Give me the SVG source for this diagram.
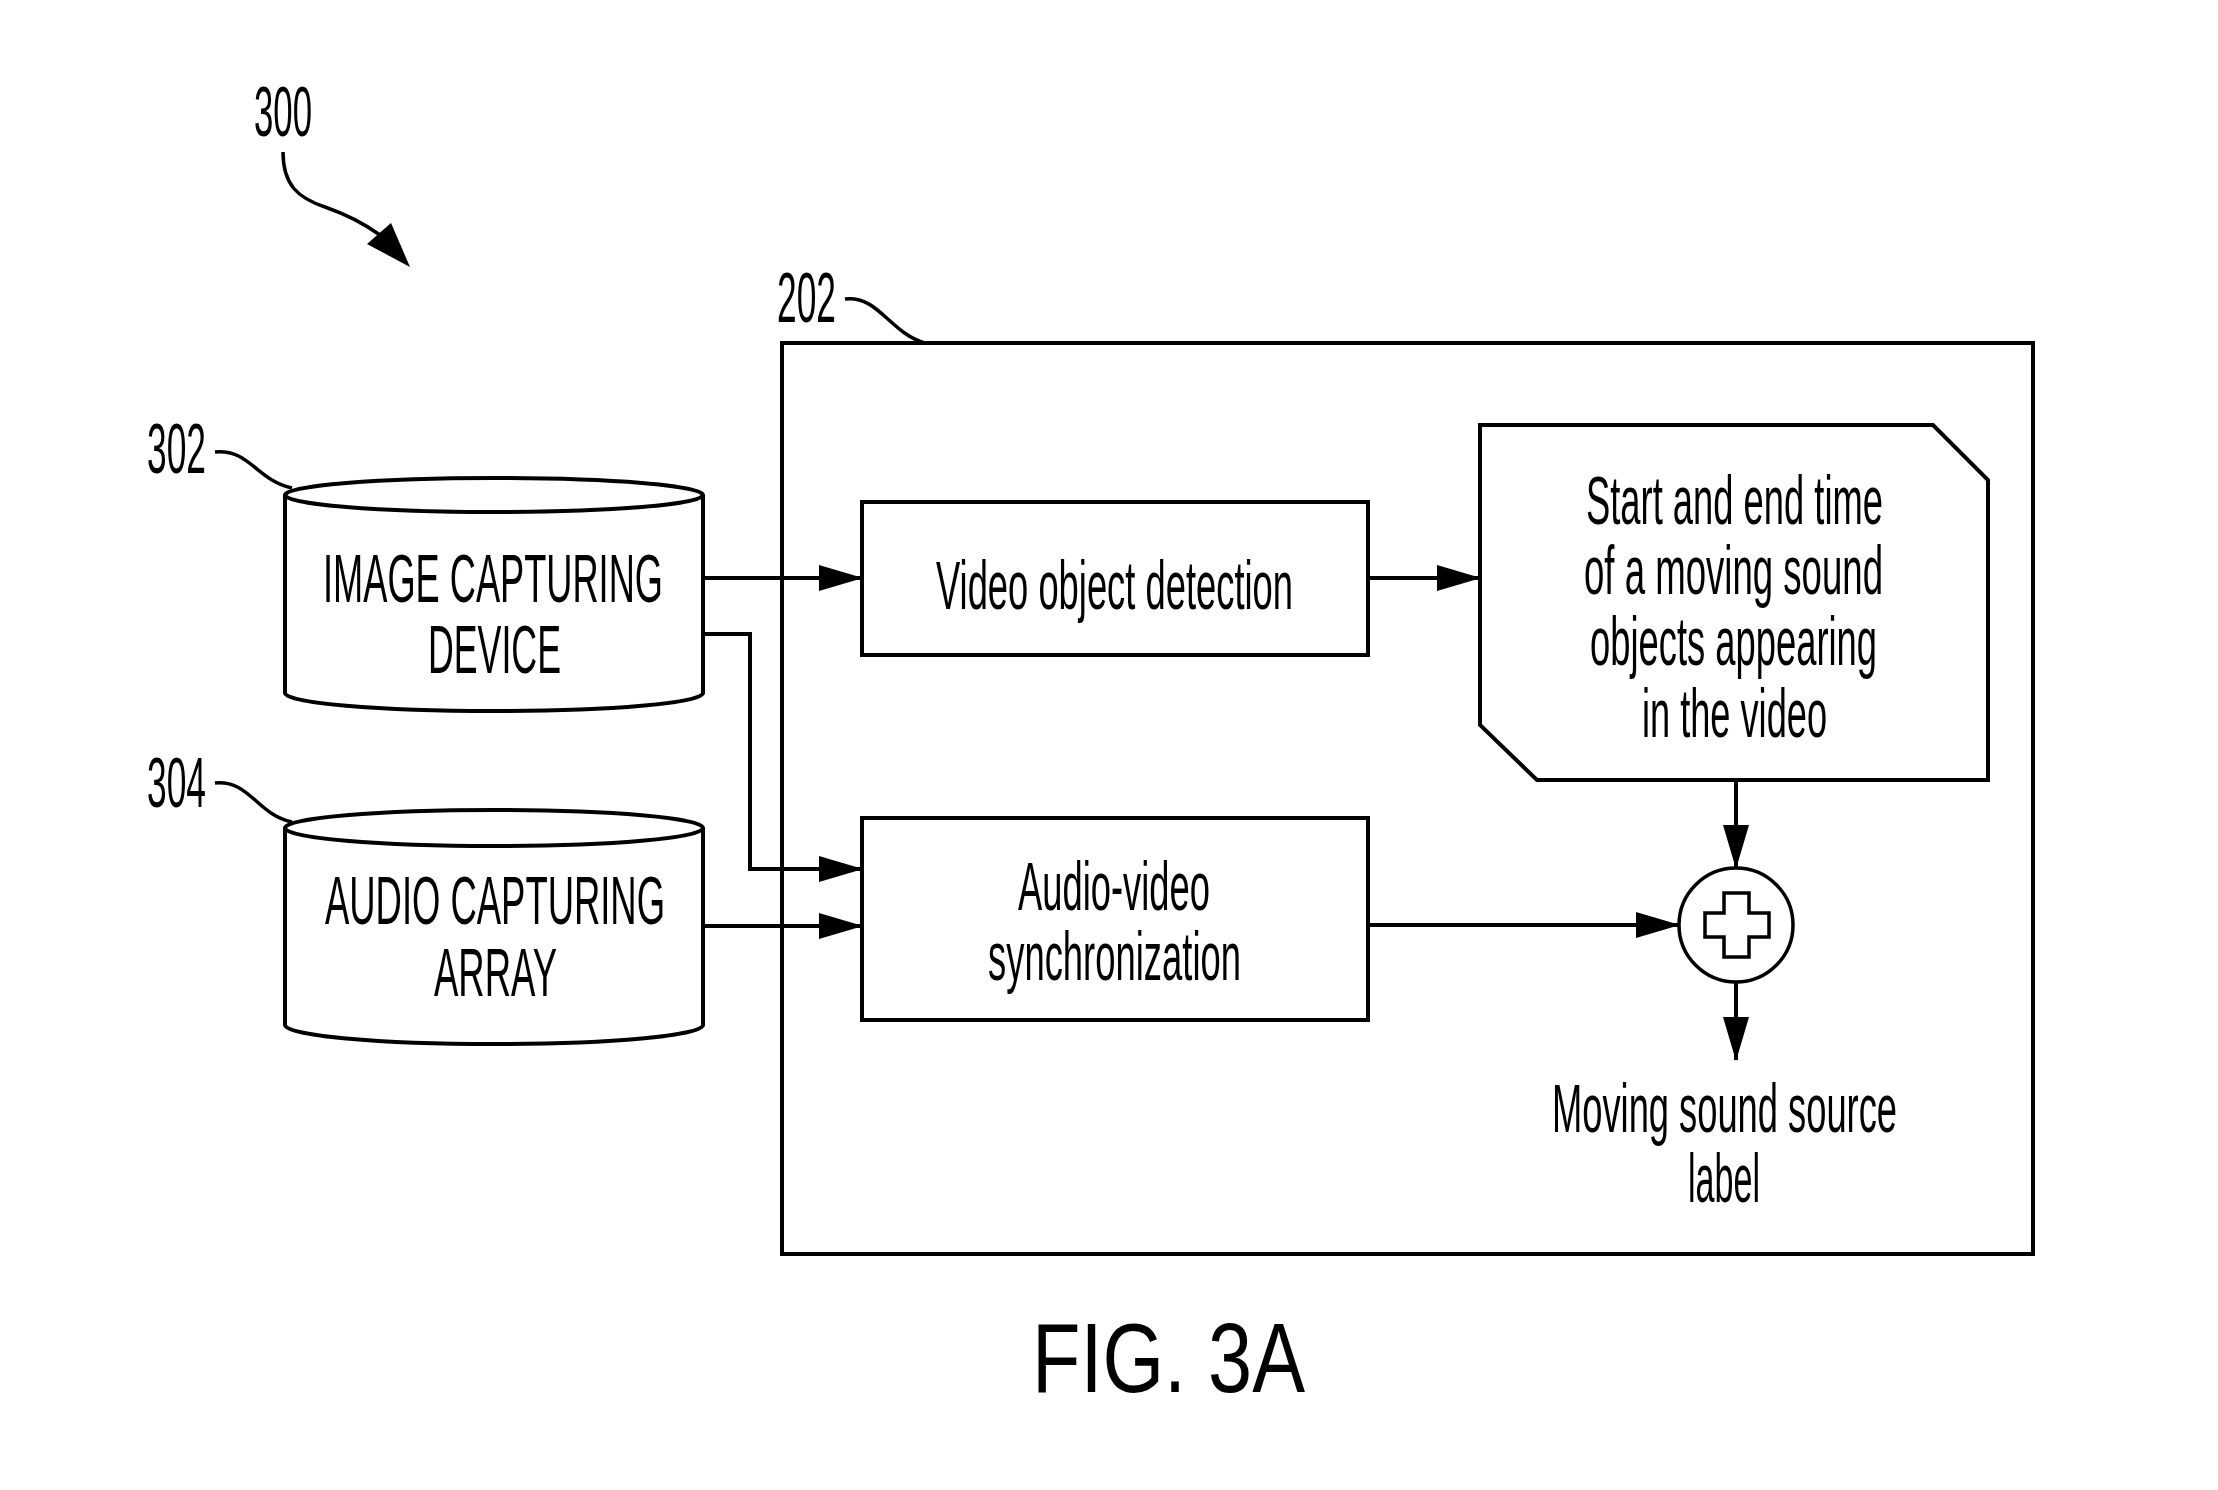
<svg xmlns="http://www.w3.org/2000/svg" width="2218" height="1490" viewBox="0 0 2218 1490">
<style>
text{font-family:"Liberation Sans",Arial,sans-serif;fill:#000;font-size:68px}
.fig{font-size:98px}
.shape{fill:#fff;stroke:#000;stroke-width:4}
.conn{fill:none;stroke:#000;stroke-width:4}
.lead{fill:none;stroke:#000;stroke-width:3.5}
</style>
<defs>
<marker id="ah" markerUnits="userSpaceOnUse" markerWidth="44" markerHeight="26" viewBox="0 0 44 26" refX="43" refY="13" orient="auto">
<path d="M0,0 L44,13 L0,26 z" fill="#000"/>
</marker>
</defs>
<rect width="2218" height="1490" fill="#fff"/>

<g id="label-300">
<text x="254" y="136" textLength="58" lengthAdjust="spacingAndGlyphs" style="font-size:71px">300</text>
<path class="lead" d="M283,152 C283,185 298,198 325,207 C345,214 362,222 380,235"/>
<polygon points="410,267 367,244 391,223" fill="#000"/>
</g>

<g id="node-202">
<rect class="shape" x="782" y="343" width="1251" height="911" fill="none"/>
<text x="777" y="322" textLength="59" lengthAdjust="spacingAndGlyphs" style="font-size:70px">202</text>
<path class="lead" d="M845,299 C878,295 890,333 925,343"/>
</g>

<g id="node-302">
<path class="shape" d="M285,495 L285,693 A209,18 0 0 0 703,693 L703,495"/>
<ellipse class="shape" cx="494" cy="495" rx="209" ry="17"/>
<text x="323" y="602" textLength="340" lengthAdjust="spacingAndGlyphs">IMAGE CAPTURING</text>
<text x="428" y="673" textLength="133" lengthAdjust="spacingAndGlyphs">DEVICE</text>
<text x="147" y="473" textLength="59" lengthAdjust="spacingAndGlyphs" style="font-size:70px">302</text>
<path class="lead" d="M215,452 C250,449 256,480 292,488"/>
</g>

<g id="node-304">
<path class="shape" d="M285,828 L285,1025 A209,19 0 0 0 703,1025 L703,828"/>
<ellipse class="shape" cx="494" cy="828" rx="209" ry="18"/>
<text x="325" y="924" textLength="340" lengthAdjust="spacingAndGlyphs">AUDIO CAPTURING</text>
<text x="434" y="996" textLength="123" lengthAdjust="spacingAndGlyphs">ARRAY</text>
<text x="147" y="807" textLength="59" lengthAdjust="spacingAndGlyphs" style="font-size:70px">304</text>
<path class="lead" d="M215,783 C250,780 256,814 292,822"/>
</g>

<g id="node-video-detection">
<rect class="shape" x="862" y="502" width="506" height="153"/>
<text x="936" y="609" textLength="357" lengthAdjust="spacingAndGlyphs">Video object detection</text>
</g>

<g id="node-av-sync">
<rect class="shape" x="862" y="818" width="506" height="202"/>
<text x="1018" y="910" textLength="192" lengthAdjust="spacingAndGlyphs">Audio-video</text>
<text x="988" y="980" textLength="253" lengthAdjust="spacingAndGlyphs">synchronization</text>
</g>

<g id="node-start-end">
<polygon class="shape" points="1480,425 1933,425 1988,480 1988,780 1537,780 1480,725"/>
<text x="1586" y="524" textLength="297" lengthAdjust="spacingAndGlyphs">Start and end time</text>
<text x="1584" y="594" textLength="299" lengthAdjust="spacingAndGlyphs">of a moving sound</text>
<text x="1590" y="665" textLength="287" lengthAdjust="spacingAndGlyphs">objects appearing</text>
<text x="1642" y="737" textLength="185" lengthAdjust="spacingAndGlyphs">in the video</text>
</g>

<g id="node-sum">
<circle class="shape" cx="1736" cy="925" r="57" style="stroke-width:3.5"/>
<polygon points="1724,893 1749,893 1749,913 1769,913 1769,937 1749,937 1749,957 1724,957 1724,937 1705,937 1705,913 1724,913" fill="#fff" stroke="#000" stroke-width="3.5"/>
</g>

<g id="node-output-label">
<text x="1552" y="1132" textLength="345" lengthAdjust="spacingAndGlyphs">Moving sound source</text>
<text x="1688" y="1202" textLength="72" lengthAdjust="spacingAndGlyphs">label</text>
</g>

<g id="connectors">
<path class="conn" d="M703,578 L862,578" marker-end="url(#ah)"/>
<path class="conn" d="M703,634 L750,634 L750,869 L862,869" marker-end="url(#ah)"/>
<path class="conn" d="M703,926 L862,926" marker-end="url(#ah)"/>
<path class="conn" d="M1368,578 L1480,578" marker-end="url(#ah)"/>
<path class="conn" d="M1368,925 L1679,925" marker-end="url(#ah)"/>
<path class="conn" d="M1736,780 L1736,868" marker-end="url(#ah)"/>
<path class="conn" d="M1736,982 L1736,1060" marker-end="url(#ah)"/>
</g>

<g id="caption">
<text class="fig" x="1032" y="1392" textLength="273" lengthAdjust="spacingAndGlyphs">FIG. 3A</text>
</g>
</svg>
